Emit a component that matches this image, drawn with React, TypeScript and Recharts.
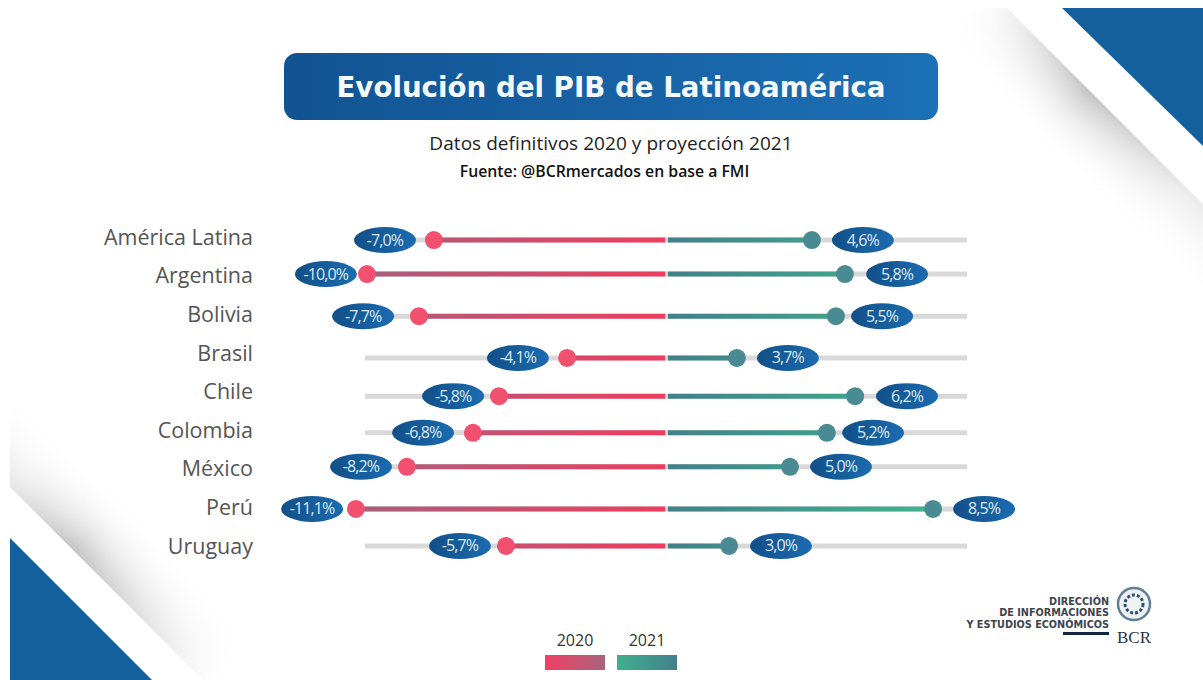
import { ScatterChart, Scatter, XAxis, YAxis, Legend } from "recharts"

const countries = ["América Latina", "Argentina", "Bolivia", "Brasil", "Chile", "Colombia", "México", "Perú", "Uruguay"]
const labels2020 = ["-7,0%", "-10,0%", "-7,7%", "-4,1%", "-5,8%", "-6,8%", "-8,2%", "-11,1%", "-5,7%"]
const labels2021 = ["4,6%", "5,8%", "5,5%", "3,7%", "6,2%", "5,2%", "5,0%", "8,5%", "3,0%"]

// the source graphic is not drawn to scale, so the marks are read off the picture
// and the printed figures are kept apart as labels
const marks2020 = [-7.77, -10.0, -8.27, -3.33, -5.6, -6.47, -8.67, -10.37, -5.37]
const marks2021 = [4.83, 5.93, 5.63, 2.33, 6.27, 5.33, 4.1, 8.87, 2.07]
const pills2020 = [-9.4, -11.37, -10.13, -4.97, -7.13, -8.13, -10.2, -11.83, -6.9]
const pills2021 = [6.53, 7.67, 7.17, 4.03, 8.0, 6.87, 5.8, 10.57, 3.8]
const rowLines = [0.08, 0.96, 2.05, 3.13, 4.12, 5.07, 5.95, 7.04, 8.0]

const trackStart = -10.07
const trackEnd = 10
const gapLeft = -0.06
const gapRight = 0.03

const rows = countries.map((name, i) => ({ name, i, y: rowLines[i] }))
const dots2020 = rows.map((r) => ({ x: marks2020[r.i], y: r.y }))
const dots2021 = rows.map((r) => ({ x: marks2021[r.i], y: r.y }))
const pills = rows.flatMap((r) => [
  { x: pills2020[r.i], y: r.y, label: labels2020[r.i] },
  { x: pills2021[r.i], y: r.y, label: labels2021[r.i] },
])

const font = "'Open Sans', sans-serif"
const noShape = () => <g />

function Dot(fill: string) {
  return (props: any) => <circle cx={props.cx} cy={props.cy} r={9} fill={fill} />
}

function Pill(props: any) {
  return (
    <g>
      <ellipse cx={props.cx} cy={props.cy} rx={31} ry={13} fill="url(#pillFill)" />
      <text
        x={props.cx}
        y={props.cy + 5.5}
        textAnchor="middle"
        fontFamily={font}
        fontSize={16}
        letterSpacing={-0.9}
        fill="#dcebf6"
      >
        {props.payload.label}
      </text>
    </g>
  )
}

function LegendBox() {
  const swatch = (label: string, bg: string) => (
    <div style={{ width: 60, textAlign: "center", fontFamily: font, fontSize: 16, color: "#333", lineHeight: "20px" }}>
      {label}
      <div style={{ height: 15, marginTop: 5, background: bg }} />
    </div>
  )
  return (
    <div style={{ display: "flex", gap: 12 }}>
      {swatch("2020", "linear-gradient(90deg, #f23f62, #a8637d)")}
      {swatch("2021", "linear-gradient(90deg, #3fb08c, #44808c)")}
    </div>
  )
}

function Backdrop() {
  return (
    <svg width={1203} height={680} style={{ position: "absolute", left: 0, top: 0 }}>
      <defs>
        <linearGradient id="shadeTop" gradientUnits="userSpaceOnUse" x1="1085" y1="86" x2="1035" y2="136">
          <stop offset="0" stopColor="#c2c2c2" />
          <stop offset="1" stopColor="#ffffff" stopOpacity={0} />
        </linearGradient>
        <linearGradient id="fadeTop" gradientUnits="userSpaceOnUse" x1="990" y1="-10" x2="1190" y2="190">
          <stop offset="0" stopColor="#000" />
          <stop offset="0.5" stopColor="#fff" />
          <stop offset="1" stopColor="#555" />
        </linearGradient>
        <mask id="maskTop">
          <rect width={1203} height={680} fill="url(#fadeTop)" />
        </mask>
        <linearGradient id="shadeBottom" gradientUnits="userSpaceOnUse" x1="90" y1="567" x2="140" y2="517">
          <stop offset="0" stopColor="#c2c2c2" />
          <stop offset="1" stopColor="#ffffff" stopOpacity={0} />
        </linearGradient>
        <linearGradient id="fadeBottom" gradientUnits="userSpaceOnUse" x1="210" y1="687" x2="10" y2="487">
          <stop offset="0" stopColor="#000" />
          <stop offset="0.68" stopColor="#fff" />
          <stop offset="1" stopColor="#666" />
        </linearGradient>
        <mask id="maskBottom">
          <rect width={1203} height={680} fill="url(#fadeBottom)" />
        </mask>
        <linearGradient id="titleFill" x1="0" y1="0" x2="1" y2="0">
          <stop offset="0" stopColor="#125392" />
          <stop offset="1" stopColor="#1c70b6" />
        </linearGradient>
      </defs>
      <polygon points="1007,8 1203,204 1203,400 800,8" fill="url(#shadeTop)" mask="url(#maskTop)" />
      <polygon points="10,487 203,680 400,680 10,300" fill="url(#shadeBottom)" mask="url(#maskBottom)" />
      <polygon points="1062,8 1203,8 1203,146" fill="#14609f" />
      <polygon points="10,538 152,680 10,680" fill="#14609f" />
      <rect x={284} y={53} width={654} height={67} rx={13} fill="url(#titleFill)" />
      <text x={611} y={97} textAnchor="middle" fontFamily="'DejaVu Sans', sans-serif" fontWeight={700} fontSize={27.7} fill="#f4fafd">
        Evolución del PIB de Latinoamérica
      </text>
      <text x={611} y={150} textAnchor="middle" fontFamily={font} fontSize={19} letterSpacing={0.05} fill="#222">
        Datos definitivos 2020 y proyección 2021
      </text>
      <text x={604.5} y={177} textAnchor="middle" fontFamily={font} fontWeight={600} fontSize={15.8} fill="#111">
        Fuente: @BCRmercados en base a FMI
      </text>
      <g fontFamily="'DejaVu Sans', sans-serif" fontWeight={700} fontSize={9.7} fill="#3c4450" textAnchor="end">
        <text x={1109} y={605}>DIRECCIÓN</text>
        <text x={1109} y={616}>DE INFORMACIONES</text>
        <text x={1109} y={628}>Y ESTUDIOS ECONÓMICOS</text>
      </g>
      <rect x={1063} y={632} width={46} height={3} fill="#14243f" />
      <circle cx={1134} cy={604} r={16} fill="#eef2f5" stroke="#5f7f9c" strokeWidth={2.5} />
      <circle cx={1134} cy={604} r={9} fill="none" stroke="#31506e" strokeWidth={3} strokeDasharray="3 2" />
      <text x={1134} y={643} textAnchor="middle" fontFamily="'Liberation Serif', serif" fontSize={17} fill="#2a3542">
        BCR
      </text>
    </svg>
  )
}

export default function App() {
  return (
    <div style={{ position: "absolute", left: 0, top: 0, width: 1203, height: 680, overflow: "hidden", background: "#fff" }}>
      <Backdrop />
      <div style={{ position: "absolute", left: 0, top: 0 }}>
        <ScatterChart width={1203} height={680} margin={{ top: 198.4, right: 131, bottom: 55.4, left: 0 }}>
          <defs>
            <linearGradient id="redLine" gradientUnits="userSpaceOnUse" x1="356" y1="0" x2="665" y2="0">
              <stop offset="0" stopColor="#a5607c" />
              <stop offset="1" stopColor="#ee3d5f" />
            </linearGradient>
            <linearGradient id="greenLine" gradientUnits="userSpaceOnUse" x1="668" y1="0" x2="933" y2="0">
              <stop offset="0" stopColor="#43808a" />
              <stop offset="1" stopColor="#3fb48c" />
            </linearGradient>
            <linearGradient id="pillFill" x1="0" y1="0" x2="1" y2="0">
              <stop offset="0" stopColor="#124f88" />
              <stop offset="1" stopColor="#1b6cb0" />
            </linearGradient>
          </defs>
          <XAxis type="number" dataKey="x" domain={[-13.5, 13.5]} hide />
          <YAxis
            type="number"
            dataKey="y"
            reversed
            width={262}
            domain={[-1, 9]}
            ticks={rows.map((r) => r.i)}
            interval={0}
            tickFormatter={(v: number) => countries[v]}
            axisLine={false}
            tickLine={false}
            tickMargin={3}
            tick={{ fill: "#555", fontSize: 21.5, fontFamily: font }}
          />
          <Legend
            content={<LegendBox />}
            wrapperStyle={{ position: "absolute", left: 545, top: 630, width: 132, bottom: "auto" }}
          />
          {rows.map((r) => (
            <Scatter
              key={`track-${r.i}`}
              data={[{ x: trackStart, y: r.y }, { x: trackEnd, y: r.y }]}
              line={{ stroke: "#d9d9d9", strokeWidth: 5 }}
              shape={noShape}
              isAnimationActive={false}
            />
          ))}
          {rows.map((r) => (
            <Scatter
              key={`red-${r.i}`}
              data={[{ x: marks2020[r.i], y: r.y }, { x: gapLeft, y: r.y }]}
              line={{ stroke: "url(#redLine)", strokeWidth: 5 }}
              shape={noShape}
              isAnimationActive={false}
            />
          ))}
          {rows.map((r) => (
            <Scatter
              key={`green-${r.i}`}
              data={[{ x: gapRight, y: r.y }, { x: marks2021[r.i], y: r.y }]}
              line={{ stroke: "url(#greenLine)", strokeWidth: 5 }}
              shape={noShape}
              isAnimationActive={false}
            />
          ))}
          <Scatter data={dots2020} shape={Dot("#f2506f")} isAnimationActive={false} />
          <Scatter data={dots2021} shape={Dot("#4a8a93")} isAnimationActive={false} />
          <Scatter data={pills} shape={Pill} isAnimationActive={false} />
        </ScatterChart>
      </div>
    </div>
  )
}
